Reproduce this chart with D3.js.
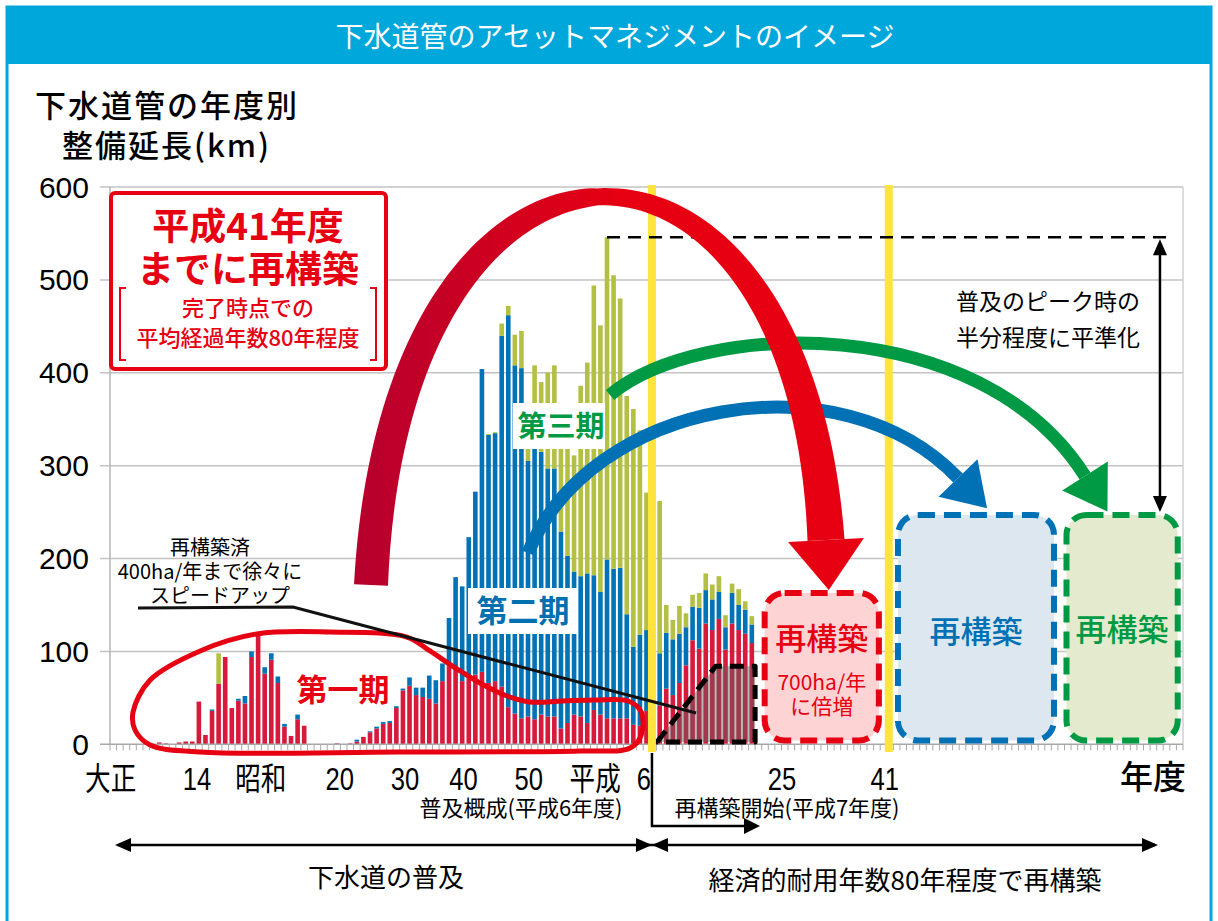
<!DOCTYPE html>
<html><head><meta charset="utf-8">
<script src="https://cdn.jsdelivr.net/npm/d3@7"></script>
<style>
body{margin:0;background:#fff;}
svg{display:block;}
text{font-family:"Noto Sans CJK JP","Noto Sans",sans-serif;}
</style></head><body>
<svg id="chart" width="1218" height="921"></svg>
<script>
// ---------------- DATA ----------------
const axisYears = d3.range(1913, 2076);          // category axis (大正2 … 平成87)
const dataYears = d3.range(1913, 2011);          // years with bars
// 第一期 (red), 第二期 (blue), 第三期 (olive) – yearly km, stacked
const phase1 = [0,0,0,0,0,0,0, 2,1,0,2,3,3,
  46,10,36,65,94,39,47,44,94,117,76,91,66,19,9,27,20,
  0,0,0,0, 1,0,1,
  3,8,13,17,22,23,39,58,63,53,
  51,49,44,68,84,82,68,71,75,78,
  66,68,62,40,33,28,30,27,32,30,
  30,17,23,32,30,23,37,32,28,28,
  28,28,21,20,36,
  40,42,60,53,66,85,112,103,130,123,
  135,102,130,123,119,109];
const phase2 = [0,0,0,0,0,0,0,0,0,0,0,0,0,0,0,
  1.5,0,0,0,2,8,6,2,7,7,7,3,0,5,0,
  0,0,0,0,0,0,0,
  2,0,1,2,2,2,2,2,9,8,
  10,25,25,19,52,98,102,152,197,326,
  267,267,378,422,375,377,275,303,283,267,
  267,212,180,154,151,161,145,132,171,161,
  162,112,84,98,87,
  60,56,60,60,53,41,36,44,36,33,
  29,24,33,27,26,20];
const phase3 = [0,0,0,0,0,0,0,0,0,0,0,0,0,0,0,0,
  33,
  0,0,0,0,0,0,0,0,0,0, 0,0,0,0,0,0,0,0,0,0, 0,0,0,0,0,0,0,0,0,0, 0,0,0,0,0,0,0,0,0,0,
  1,1,13,10,33,40,40,78,75,103,
  111,89,117,125,205,227,312,287,347,316,
  290,235,256,220,148,
  150,164,30,21,30,15,13,16,18,16,
  17,13,10,17,9,9];
const seriesKeys = ["第一期","第二期","第三期"];
const yTicks = [0,100,200,300,400,500,600];
const xTickLabels = ["大正","14","昭和","20","30","40","50","平成","6","25","41"];
const xTickYears  = [1912.6,1925.7,1935.4,1947.4,1957.3,1966.2,1976.1,1986.2,1993.6,2014.6,2030.2];
const futureLevels = {reconstructed:84, doubled:163, levelled:247};   // km/year targets
const reconStart = 1995.6, reconFull = 2004.5, reconEnd = 2010.5;
const yellowYears = [1994.83, 2030.8];

// ---------------- SCALES ----------------
const svg = d3.select("#chart");
const P = {left:110, right:1183, top:187, bottom:744.3};
const x = d3.scaleBand().domain(axisYears).range([P.left,P.right]).paddingInner(0.3).paddingOuter(0.15);
const xs = d3.scaleLinear().domain([1912.5, 2075.5]).range([P.left,P.right]);
const y = d3.scaleLinear().domain([0,600]).range([P.bottom,P.top]);
const NUM = '"Liberation Sans",Arial,sans-serif';
const RED="#e60012", BLUE="#0071b5", GREEN="#009a44";
const colors = {"第一期":"#d7193b","第二期":"#0073b7","第三期":"#b4c043"};

// multi-line text helper (one <text>, several <tspan>)
function mtext(lines, xx, y0, dy, size, opts={}){
  const t = svg.append("text").attr("x",xx).attr("y",y0).attr("text-anchor",opts.anchor||"middle")
    .attr("fill",opts.fill||"#000").style("font-size",size+"px");
  if(opts.weight) t.style("font-weight",opts.weight);
  if(opts.ls) t.style("letter-spacing",opts.ls);
  lines.forEach((l,i)=>{
    const ts = t.append("tspan").attr("x", Array.isArray(xx)?xx[i]:xx).text(l);
    if(i>0) ts.attr("dy",dy);
  });
  if(Array.isArray(xx)) t.attr("x",xx[0]);
  return t;
}

// ---------------- FRAME / HEADER ----------------
svg.append("rect").attr("x",7).attr("y",7).attr("width",1204).attr("height",980)
  .attr("fill","#fff").attr("stroke","#00a7db").attr("stroke-width",3);
svg.append("rect").attr("x",7).attr("y",7).attr("width",1204).attr("height",57).attr("fill","#00a7db");
svg.append("text").attr("x",615).attr("y",47).attr("text-anchor","middle").attr("fill","#fff")
  .style("font-size","28px").text("下水道管のアセットマネジメントのイメージ");

// axis title
mtext(["下水道管の年度別","整備延長(km)"],[35,62],117,40,31,{anchor:"start",weight:500,ls:"2px"});

// ---------------- GRID & AXES ----------------
const g = svg.append("g");
g.selectAll(".grid").data(yTicks.filter(d=>d>0)).join("line")
  .attr("x1",P.left-10).attr("x2",P.right).attr("y1",d=>y(d)).attr("y2",d=>y(d))
  .attr("stroke","#c3c3c3").attr("stroke-width",1.5);
g.append("line").attr("x1",P.left).attr("x2",P.left).attr("y1",y(600)).attr("y2",y(0)).attr("stroke","#b5b5b5").attr("stroke-width",1.5);
g.append("line").attr("x1",P.right).attr("x2",P.right).attr("y1",y(600)).attr("y2",y(0)).attr("stroke","#d0d0d0").attr("stroke-width",1.5);
g.selectAll(".ytl").data(yTicks).join("text")
  .attr("x",89).attr("y",d=>y(d)+10.5).attr("text-anchor","end")
  .style("font-family",NUM).style("font-size","30px").text(d=>d);

// ---------------- BARS ----------------
const rows = dataYears.map((yr,i)=>({year:yr,"第一期":phase1[i],"第二期":phase2[i],"第三期":phase3[i]}));
const stacked = d3.stack().keys(seriesKeys)(rows);
const bars = svg.append("g");
stacked.forEach(s=>{
  bars.selectAll(null).data(s.filter(d=>d[1]-d[0]>0)).join("rect")
    .attr("x",d=>x(d.data.year)).attr("width",x.bandwidth())
    .attr("y",d=>y(d[1])).attr("height",d=>y(d[0])-y(d[1]))
    .attr("fill",colors[s.key]);
});
// x axis line and yearly ticks
svg.append("line").attr("x1",P.left-10).attr("x2",P.right).attr("y1",y(0)).attr("y2",y(0)).attr("stroke","#a8a8a8").attr("stroke-width",1.5);
svg.append("g").selectAll("line").data(axisYears.concat([2076])).join("line")
  .attr("x1",d=>xs(d-0.5)).attr("x2",d=>xs(d-0.5)).attr("y1",y(0)).attr("y2",y(0)+6)
  .attr("stroke","#a8a8a8").attr("stroke-width",1);

// x tick labels
svg.append("g").selectAll("text").data(xTickLabels).join("text")
  .attr("transform",(d,i)=>`translate(${xs(xTickYears[i])},790) scale(0.8,1)`)
  .attr("text-anchor","middle").style("font-size","32px")
  .style("font-family",(d)=>/\d/.test(d)?NUM:null).text(d=>d);
svg.append("text").attr("x",1153).attr("y",789).attr("text-anchor","middle")
  .style("font-size","33px").style("font-weight",500).text("年度");

// ---------------- RECONSTRUCTED TRAPEZOID ----------------
const trap = [[reconStart,2.5],[reconFull,futureLevels.reconstructed],[reconEnd,futureLevels.reconstructed],[reconEnd,2.5]];
svg.append("path").attr("d",d3.line().x(d=>xs(d[0])).y(d=>y(d[1]))(trap)+"Z")
  .attr("fill","rgba(95,95,95,0.45)").attr("stroke","#000").attr("stroke-width",5)
  .attr("stroke-dasharray","14 8").attr("stroke-linejoin","round");

// ---------------- YELLOW LINES ----------------
svg.append("g").selectAll("line").data(yellowYears).join("line")
  .attr("x1",d=>xs(d)).attr("x2",d=>xs(d)).attr("y1",185).attr("y2",752)
  .attr("stroke","#ffe33f").attr("stroke-width",8);

// ---------------- FUTURE BOXES ----------------
const boxes = [
  {x0:2011.95,x1:2029.3,top:futureLevels.doubled,stroke:RED,fill:"#fdd3d3"},
  {x0:2032.2,x1:2055.9,top:futureLevels.levelled,stroke:BLUE,fill:"#dde7f0"},
  {x0:2057.8,x1:2074.7,top:futureLevels.levelled,stroke:GREEN,fill:"#e4eacd"}];
svg.append("g").selectAll("rect").data(boxes).join("rect")
  .attr("x",d=>xs(d.x0)).attr("width",d=>xs(d.x1)-xs(d.x0))
  .attr("y",d=>y(d.top)).attr("height",d=>y(4)-y(d.top))
  .attr("rx",20).attr("fill",d=>d.fill).attr("stroke",d=>d.stroke)
  .attr("stroke-width",6).attr("stroke-dasharray","17 9");
const bc = d=>(xs(d.x0)+xs(d.x1))/2;
svg.append("text").attr("x",bc(boxes[0])).attr("y",650).attr("text-anchor","middle").attr("fill",RED)
  .style("font-size","31px").style("font-weight",500).text("再構築");
mtext(["700ha/年","に倍増"],bc(boxes[0]),690,24,21,{fill:RED});
svg.append("text").attr("x",bc(boxes[1])).attr("y",643).attr("text-anchor","middle").attr("fill",BLUE)
  .style("font-size","31px").style("font-weight",500).text("再構築");
svg.append("text").attr("x",bc(boxes[2])).attr("y",641).attr("text-anchor","middle").attr("fill",GREEN)
  .style("font-size","31px").style("font-weight",500).text("再構築");

// ---------------- PEAK LINE & HALF ARROW ----------------
const totals = rows.map(r=>r["第一期"]+r["第二期"]+r["第三期"]);
const peak = d3.max(totals), peakYear = dataYears[d3.maxIndex(totals)];
svg.append("line").attr("x1",xs(peakYear)).attr("x2",xs(2073.5)).attr("y1",y(peak)).attr("y2",y(peak))
  .attr("stroke","#000").attr("stroke-width",2.5).attr("stroke-dasharray","13 8");
const ax = xs(2072);
svg.append("line").attr("x1",ax).attr("x2",ax).attr("y1",y(peak)+14).attr("y2",y(futureLevels.levelled+3)-14)
  .attr("stroke","#000").attr("stroke-width",2.5);
svg.append("path").attr("d",`M${ax},${y(peak)+2}l-7,16h14Z`).attr("fill","#000");
svg.append("path").attr("d",`M${ax},${y(futureLevels.levelled+3)}l-7,-16h14Z`).attr("fill","#000");
mtext(["普及のピーク時の","半分程度に平準化"],1048,310,36,23);

// ---------------- 第一期 LOOP ----------------
const loop = [[1916.0,34.8],[1918.6,69.2],[1926.2,100.5],[1934.8,118.8],[1945.9,120.9],[1957.6,115.5],
  [1961.1,100.5],[1965.2,81.1],[1968.7,66],[1972.8,52],[1976.3,45.5],[1981.2,46.6],[1986.2,47.7],
  [1991.2,46.6],[1993.2,34.8],[1993.2,10],[1991.5,-4],[1983.9,-7.2],[1956.5,-8.3],[1926.2,-8.3],
  [1918.6,-0.8],[1916.3,15.4]];
svg.append("path").attr("d",d3.line().curve(d3.curveCatmullRomClosed).x(d=>xs(d[0])).y(d=>y(d[1]))(loop))
  .attr("fill","none").attr("stroke",RED).attr("stroke-width",5);

// ---------------- LABEL BOXES ----------------
svg.append("rect").attr("x",468).attr("y",588).attr("width",110).attr("height",46).attr("fill","#fff");
svg.append("text").attr("x",523).attr("y",622).attr("text-anchor","middle").attr("fill","#0070b0")
  .style("font-size","31px").style("font-weight",700).text("第二期");
svg.append("rect").attr("x",513).attr("y",403).attr("width",92).attr("height",46).attr("fill","#fff");
svg.append("text").attr("x",561).attr("y",437).attr("text-anchor","middle").attr("fill",GREEN)
  .style("font-size","29px").style("font-weight",700).text("第三期");
svg.append("text").attr("x",343).attr("y",701).attr("text-anchor","middle").attr("fill",RED)
  .style("font-size","31px").style("font-weight",700).text("第一期");

// ---------------- 再構築済 NOTE ----------------
svg.append("path").attr("d","M138,608L293,607L696,713").attr("fill","none").attr("stroke","#111").attr("stroke-width",3);
mtext(["再構築済","400ha/年まで徐々に","スピードアップ"],[210,210,220],555,24,20);

// ---------------- ARROWS ----------------
function cub(p,t){const u=1-t;return [0,1].map(k=>u*u*u*p[0][k]+3*u*u*t*p[1][k]+3*u*t*t*p[2][k]+t*t*t*p[3][k]);}
function cubD(p,t){const u=1-t;return [0,1].map(k=>3*u*u*(p[1][k]-p[0][k])+6*u*t*(p[2][k]-p[1][k])+3*t*t*(p[3][k]-p[2][k]));}
function head(p,base,len){
  const d=cubD(p,1),L=Math.hypot(d[0],d[1]),ux=d[0]/L,uy=d[1]/L,nx=-uy,ny=ux,e=p[3];
  return `M${e[0]+nx*base/2},${e[1]+ny*base/2}L${e[0]+ux*len},${e[1]+uy*len}L${e[0]-nx*base/2},${e[1]-ny*base/2}Z`;
}
function strokeArrow(p,color,w,base,len){
  const path=d3.path();path.moveTo(...p[0]);path.bezierCurveTo(...p[1],...p[2],...p[3]);
  svg.append("path").attr("d",path.toString()).attr("fill","none").attr("stroke",color).attr("stroke-width",w);
  svg.append("path").attr("d",head(p,base,len)).attr("fill",color);
}
strokeArrow([[528,553],[590,400],[840,355],[958,478]],BLUE,13,54,42);
strokeArrow([[610,395],[700,320],[980,310],[1085,476]],GREEN,13,54,42);

// red variable-width arrow
const defs=svg.append("defs");
const gr=defs.append("linearGradient").attr("id","redg").attr("gradientUnits","userSpaceOnUse")
  .attr("x1",370).attr("y1",0).attr("x2",620).attr("y2",0);
gr.append("stop").attr("offset",0).attr("stop-color","#b8002d");
gr.append("stop").attr("offset",1).attr("stop-color","#e60012");
const rp=[[371,585],[395,75],[800,75],[826,540]];
const L1=[],L2=[];
for(let i=0;i<=100;i++){
  const t=i/100,pt=cub(rp,t),d=cubD(rp,t),Ln=Math.hypot(d[0],d[1]),nx=-d[1]/Ln,ny=d[0]/Ln;
  const s=Math.abs(2*t-1);
  const w=(t<0.5 ? 17+17*Math.pow(s,0.7) : 17+20*Math.pow(s,1.3))/2;
  L1.push([pt[0]+nx*w,pt[1]+ny*w]);L2.push([pt[0]-nx*w,pt[1]-ny*w]);
}
svg.append("path").attr("d","M"+L1.concat(L2.reverse()).map(p=>p.join(",")).join("L")+"Z").attr("fill","url(#redg)");
svg.append("path").attr("d",head(rp,76,50)).attr("fill",RED);

// ---------------- TOP-LEFT RED BOX ----------------
svg.append("rect").attr("x",111).attr("y",193).attr("width",275).attr("height",176).attr("rx",4)
  .attr("fill","#fff").attr("stroke",RED).attr("stroke-width",4);
mtext(["平成41年度","までに再構築"],248,240,43,37,{fill:RED,weight:700});
svg.append("path").attr("d","M126,288H120V360H126M370,288H376V360H370").attr("fill","none").attr("stroke",RED).attr("stroke-width",2);
mtext(["完了時点での","平均経過年数80年程度"],248,316,30,22,{fill:RED,weight:500});

// ---------------- BOTTOM ANNOTATIONS ----------------
const yl = xs(yellowYears[0]);
svg.append("text").attr("x",521).attr("y",816).attr("text-anchor","middle").style("font-size","22px").text("普及概成(平成6年度)");
svg.append("text").attr("x",787).attr("y",816).attr("text-anchor","middle").style("font-size","22px").text("再構築開始(平成7年度)");
svg.append("path").attr("d",`M${yl},753V826H746`).attr("fill","none").attr("stroke","#000").attr("stroke-width",2.5);
svg.append("path").attr("d","M760,826l-16,-8v16Z").attr("fill","#000");
svg.append("line").attr("x1",118).attr("x2",1155).attr("y1",845).attr("y2",845).attr("stroke","#000").attr("stroke-width",2.5);
svg.append("path").attr("d",`M115,845l16,-7v14Z M${yl},845l-16,-7v14Z M${yl},845l16,-7v14Z M1158,845l-16,-7v14Z`).attr("fill","#000");
svg.append("text").attr("x",386).attr("y",887).attr("text-anchor","middle").style("font-size","26px").text("下水道の普及");
svg.append("text").attr("x",905).attr("y",890).attr("text-anchor","middle").style("font-size","26px").text("経済的耐用年数80年程度で再構築");
</script>
</body></html>
